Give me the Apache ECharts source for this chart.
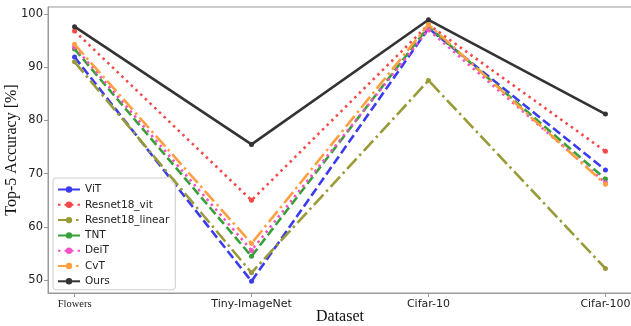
<!DOCTYPE html>
<html><head><meta charset="utf-8">
<script src="https://cdn.jsdelivr.net/npm/echarts@6/dist/echarts.min.js"></script>
<style>html,body{margin:0;padding:0;background:#fff}#c{width:631px;height:326px}</style>
</head><body><div id="c"></div>
<script>
const categories = ['Flowers', 'Tiny-ImageNet', 'Cifar-10', 'Cifar-100'];
const yTicks = [50, 60, 70, 80, 90, 100];
const seriesNames = ['ViT', 'Resnet18_vit', 'Resnet18_linear', 'TNT', 'DeiT', 'CvT', 'Ours'];
const vit = [91.9, 49.8, 97.3, 70.7];
const resnet18Vit = [96.8, 65.0, 98.0, 74.2];
const resnet18Linear = [91.0, 51.4, 87.5, 52.2];
const tnt = [93.4, 54.5, 97.6, 69.0];
const deit = [93.8, 55.6, 97.0, 68.3];
const cvt = [94.3, 56.9, 98.0, 68.0];
const ours = [97.6, 75.5, 98.9, 81.2];

const values = [vit, resnet18Vit, resnet18Linear, tnt, deit, cvt, ours];
const colors = ['#3b3bf2', '#f54848', '#9a9a38', '#38a038', '#f552c8', '#ffa040', '#333333'];
const dashes = [[9, 4], [2.5, 4], [14, 4, 2.5, 4], [9, 4], [2.5, 4], [14, 4, 2.5, 4], 'solid'];

const chart = echarts.init(document.getElementById('c'), null, {renderer: 'canvas'});
const series = seriesNames.map((n, i) => ({
  name: n, type: 'line',
  data: values[i].map((v, j) => [j, v]),
  symbol: 'circle', symbolSize: 5, showSymbol: true,
  lineStyle: {width: 2.6, color: colors[i], type: dashes[i]},
  itemStyle: {color: colors[i]},
  z: 2 + i, animation: false
}));

chart.setOption({
  animation: false,
  grid: {left: 48, right: -1, top: 7, bottom: 33, show: true, borderColor: '#999', borderWidth: 1,
         containLabel: false, outerBoundsMode: 'none'},
  legend: {
    data: seriesNames, orient: 'vertical', left: 53, top: 178,
    itemWidth: 22, itemHeight: 8, itemGap: 2.3,
    padding: [5, 6, 2, 4],
    backgroundColor: 'rgba(255,255,255,0.85)', borderColor: '#cccccc', borderWidth: 1, borderRadius: 3,
    textStyle: {fontFamily: 'DejaVu Sans', fontSize: 10.5, lineHeight: 13, color: '#222'}
  },
  xAxis: {
    type: 'value', min: -0.15, max: 3.15,
    name: 'Dataset', nameLocation: 'middle', nameGap: 16, nameMoveOverlap: false,
    nameTextStyle: {fontFamily: 'Liberation Serif', fontSize: 16, color: '#111'},
    splitLine: {show: false},
    axisLine: {show: true, onZero: false, lineStyle: {color: '#999'}},
    axisTick: {show: true, length: 4, lineStyle: {color: '#999'}, customValues: [0, 1, 2, 3]},
    axisLabel: {
      customValues: [0, 1, 2, 3], margin: 6,
      fontFamily: 'DejaVu Sans', fontSize: 11, color: '#222',
      formatter: v => { const i = Math.round(v); return i === 0 ? '{f|' + categories[0] + '}' : categories[i]; },
      rich: {f: {fontFamily: 'Liberation Serif', fontSize: 10.5, color: '#222'}}
    }
  },
  yAxis: {
    type: 'value', min: 47.6, max: 101.3,
    name: 'Top-5 Accuracy [%]', nameLocation: 'middle', nameGap: 28, nameMoveOverlap: false,
    nameTextStyle: {fontFamily: 'Liberation Serif', fontSize: 16, color: '#111'},
    splitLine: {show: false},
    axisLine: {show: true, onZero: false, lineStyle: {color: '#999'}},
    axisTick: {show: true, length: 4, lineStyle: {color: '#999'}, customValues: yTicks},
    axisLabel: {customValues: yTicks, margin: 5, fontFamily: 'DejaVu Sans', fontSize: 11.5, color: '#222'}
  },
  series: series
});
</script></body></html>
